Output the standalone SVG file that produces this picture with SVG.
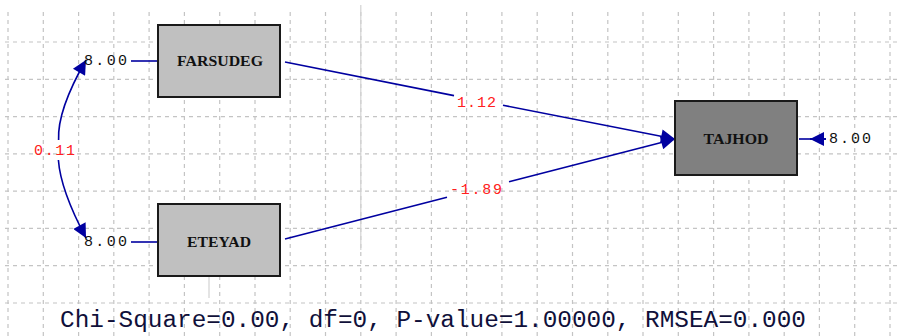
<svg xmlns="http://www.w3.org/2000/svg" width="901" height="336" viewBox="0 0 901 336">
<style>
.grid line{stroke:#c4c4c4;stroke-width:1.2;stroke-dasharray:4 4}
.solidg{stroke:#d2d2d2;stroke-width:1.2}
.box{stroke:#1a1a1a;stroke-width:2}
.nl{font-family:"Liberation Serif",serif;font-weight:bold;font-size:14px;fill:#111;text-anchor:middle;dominant-baseline:central}
.err{font-family:"Liberation Mono",monospace;font-size:15px;fill:#111;dominant-baseline:central}
.val{font-family:"Liberation Mono",monospace;font-size:15px;fill:#ff2020;dominant-baseline:central}
.conn path,.conn line{stroke:#0000a0;stroke-width:1.6;fill:none}
.foot{font-family:"Liberation Mono",monospace;font-size:23px;fill:#10103a}
</style>
<defs>
<marker id="ah" viewBox="0 0 10 10" refX="10" refY="5" markerWidth="20" markerHeight="14" markerUnits="userSpaceOnUse" orient="auto">
<path d="M0,0 L10,5 L0,10 Z" fill="#0000a0"/>
</marker>
</defs>
<rect width="901" height="336" fill="#ffffff"/>
<g class="grid">
<line x1="8" y1="12" x2="8" y2="336"/><line x1="43.3" y1="12" x2="43.3" y2="336"/><line x1="78.6" y1="12" x2="78.6" y2="336"/><line x1="113.8" y1="12" x2="113.8" y2="336"/><line x1="149.1" y1="12" x2="149.1" y2="336"/><line x1="184.4" y1="12" x2="184.4" y2="336"/><line x1="219.7" y1="12" x2="219.7" y2="336"/><line x1="255" y1="12" x2="255" y2="336"/><line x1="290.2" y1="12" x2="290.2" y2="336"/><line x1="325.5" y1="12" x2="325.5" y2="336"/><line x1="360.8" y1="12" x2="360.8" y2="336"/><line x1="396.1" y1="12" x2="396.1" y2="336"/><line x1="431.4" y1="12" x2="431.4" y2="336"/><line x1="466.6" y1="12" x2="466.6" y2="336"/><line x1="501.9" y1="12" x2="501.9" y2="336"/><line x1="537.2" y1="12" x2="537.2" y2="336"/><line x1="572.5" y1="12" x2="572.5" y2="336"/><line x1="607.8" y1="12" x2="607.8" y2="336"/><line x1="643" y1="12" x2="643" y2="336"/><line x1="678.3" y1="12" x2="678.3" y2="336"/><line x1="713.6" y1="12" x2="713.6" y2="336"/><line x1="748.9" y1="12" x2="748.9" y2="336"/><line x1="784.2" y1="12" x2="784.2" y2="336"/><line x1="819.4" y1="12" x2="819.4" y2="336"/><line x1="854.7" y1="12" x2="854.7" y2="336"/><line x1="890" y1="12" x2="890" y2="336"/>
<line x1="5" y1="42" x2="901" y2="42"/><line x1="5" y1="79.3" x2="901" y2="79.3"/><line x1="5" y1="116.6" x2="901" y2="116.6"/><line x1="5" y1="153.9" x2="901" y2="153.9"/><line x1="5" y1="191.1" x2="901" y2="191.1"/><line x1="5" y1="228.4" x2="901" y2="228.4"/><line x1="5" y1="265.7" x2="901" y2="265.7"/><line x1="5" y1="303" x2="901" y2="303"/>
</g>
<line class="solidg" x1="360.8" y1="5" x2="360.8" y2="250"/>
<line class="solidg" x1="209" y1="276" x2="209" y2="298"/>
<g class="conn">
<path d="M285,62 L454,95.6"/>
<path d="M503,105.3 L675,139" marker-end="url(#ah)"/>
<path d="M285,239 L447,197.3"/>
<path d="M509,181.7 L675,139" marker-end="url(#ah)"/>
<line x1="131" y1="61" x2="158" y2="61"/>
<line x1="131" y1="242" x2="158" y2="242"/>
<line x1="799" y1="139" x2="826" y2="139"/>
<line x1="826" y1="139" x2="810" y2="139" marker-end="url(#ah)"/>
<path d="M58.6,140 Q57.2,110 86,60" marker-end="url(#ah)"/>
<path d="M58.4,160 Q60.5,190 86,238" marker-end="url(#ah)"/>
</g>
<g id="FARSUDEG">
<rect class="box" x="158" y="25" width="122" height="72" fill="#c0c0c0"/>
<text class="nl" x="220" y="61" textLength="86" lengthAdjust="spacingAndGlyphs">FARSUDEG</text>
<text class="err" x="84" y="61" textLength="43" lengthAdjust="spacing">8.00</text>
</g>
<g id="ETEYAD">
<rect class="box" x="158" y="204" width="122" height="72" fill="#c0c0c0"/>
<text class="nl" x="219" y="242" textLength="64" lengthAdjust="spacingAndGlyphs">ETEYAD</text>
<text class="err" x="84" y="242" textLength="43" lengthAdjust="spacing">8.00</text>
</g>
<g id="TAJHOD">
<rect class="box" x="675" y="101" width="122" height="74" fill="#808080"/>
<text class="nl" x="736" y="139" textLength="65" lengthAdjust="spacingAndGlyphs">TAJHOD</text>
<text class="err" x="829" y="139" textLength="42" lengthAdjust="spacing">8.00</text>
</g>
<g id="labels">
<text class="val" x="457" y="103" textLength="39" lengthAdjust="spacing">1.12</text>
<text class="val" x="450" y="190" textLength="52" lengthAdjust="spacing">-1.89</text>
<text class="val" x="34" y="151" textLength="41" lengthAdjust="spacing">0.11</text>
</g>
<text class="foot" x="60" y="327" textLength="746" lengthAdjust="spacingAndGlyphs">Chi-Square=0.00, df=0, P-value=1.00000, RMSEA=0.000</text>
</svg>
